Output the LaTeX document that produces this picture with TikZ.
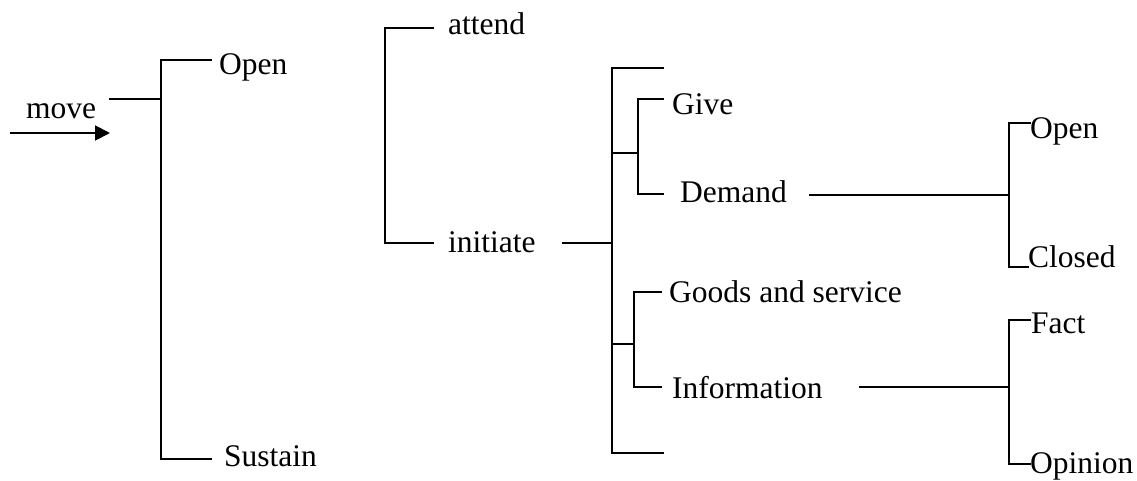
\documentclass[tikz,border=0pt]{standalone}
\usepackage{fontspec}
\setmainfont{Liberation Serif}
\usetikzlibrary{arrows.meta}
\begin{document}
\begin{tikzpicture}[x=1pt,y=-1pt,
  lbl/.style={anchor=base west, inner sep=0pt, font=\fontsize{31.5}{36}\selectfont},
  link/.style={line width=1.9pt, line cap=rect},
  feed/.style={line width=1.9pt, -{Triangle[length=15pt,width=15pt]}}]
\useasboundingbox (0,0) rectangle (1137,481);

% labels
\node[lbl] (move)     at (26,119)   {move};
\node[lbl] (open)     at (219,75)   {Open};
\node[lbl] (sustain)  at (224,466)  {Sustain};
\node[lbl] (attend)   at (448,35)   {attend};
\node[lbl] (initiate) at (448,252)  {initiate};
\node[lbl] (give)     at (672,115)  {Give};
\node[lbl] (demand)   at (680,203)  {Demand};
\node[lbl] (goods)    at (669,302)  {Goods and service};
\node[lbl] (info)     at (672,398)  {Information};
\node[lbl] (qopen)    at (1030,139) {Open};
\node[lbl] (closed)   at (1028,267) {Closed};
\node[lbl] (fact)     at (1031,333) {Fact};
\node[lbl] (opinion)  at (1030,473) {Opinion};

% junction points
\coordinate (in0) at (10,133);
\coordinate (in1) at (110,133);
\coordinate (mv0) at (110,99);
\coordinate (mvj) at (161,99);
\coordinate (mvt) at (161,60);
\coordinate (mvb) at (161,459);
\coordinate (opE) at (211,60);
\coordinate (suE) at (211,459);

\coordinate (opt) at (385,28);
\coordinate (opb) at (385,243);
\coordinate (atE) at (433,28);
\coordinate (inE) at (433,243);

\coordinate (ini0) at (563,243);
\coordinate (inij) at (612,243);
\coordinate (init) at (612,68);
\coordinate (inib) at (612,453);
\coordinate (tE)   at (663,68);
\coordinate (bE)   at (663,453);

\coordinate (gd0) at (612,153);
\coordinate (gdj) at (638,153);
\coordinate (gdt) at (638,99);
\coordinate (gdb) at (638,194);
\coordinate (giE) at (663,99);
\coordinate (deE) at (663,194);

\coordinate (gi0) at (612,344);
\coordinate (gij) at (634,344);
\coordinate (git) at (634,292);
\coordinate (gib) at (634,387);
\coordinate (goE) at (661,292);
\coordinate (ifE) at (661,387);

\coordinate (de0) at (810,195);
\coordinate (dej) at (1009,195);
\coordinate (det) at (1009,123);
\coordinate (deb) at (1009,267);
\coordinate (qoE) at (1030,123);
\coordinate (clE) at (1028,267);

\coordinate (if0) at (860,387);
\coordinate (ifj) at (1009,387);
\coordinate (ift) at (1009,320);
\coordinate (ifb) at (1009,464);
\coordinate (faE) at (1030,320);
\coordinate (oiE) at (1030,464);

% connectors
\draw[feed] (in0) -- (in1);
\draw[link] (mv0) -- (mvj);
\draw[link] (opE) -- (mvt) -- (mvb) -- (suE);

\draw[link] (atE) -- (opt) -- (opb) -- (inE);

\draw[link] (ini0) -- (inij);
\draw[link] (tE) -- (init) -- (inib) -- (bE);

\draw[link] (gd0) -- (gdj);
\draw[link] (giE) -- (gdt) -- (gdb) -- (deE);

\draw[link] (gi0) -- (gij);
\draw[link] (goE) -- (git) -- (gib) -- (ifE);

\draw[link] (de0) -- (dej);
\draw[link] (qoE) -- (det) -- (deb) -- (clE);

\draw[link] (if0) -- (ifj);
\draw[link] (faE) -- (ift) -- (ifb) -- (oiE);
\end{tikzpicture}
\end{document}
